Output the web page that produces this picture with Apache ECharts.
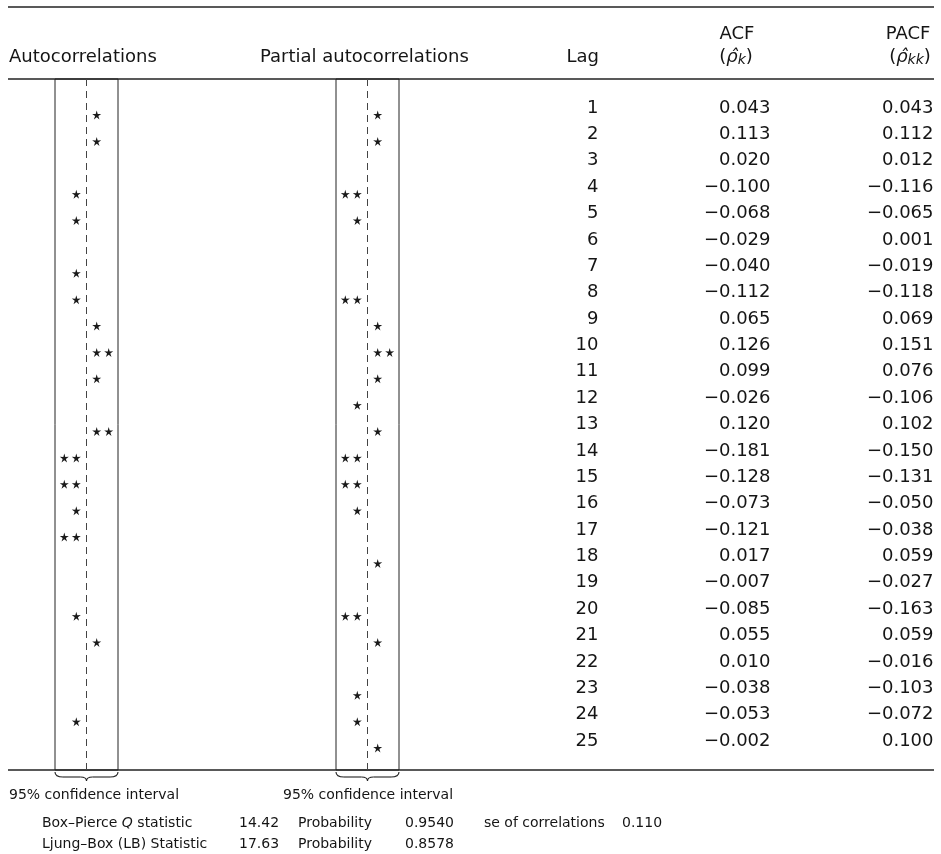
<!DOCTYPE html>
<html><head><meta charset="utf-8">
<script src="https://cdn.jsdelivr.net/npm/echarts/dist/echarts.min.js"></script>
<style>html,body{margin:0;padding:0;background:#fff}#c{width:941px;height:854px}</style>
</head><body><div id="c"></div>
<script>
// ---- data ----
const lags = [1,2,3,4,5,6,7,8,9,10,11,12,13,14,15,16,17,18,19,20,21,22,23,24,25];
const acf = [0.043,0.113,0.020,-0.100,-0.068,-0.029,-0.040,-0.112,0.065,0.126,0.099,-0.026,0.120,-0.181,-0.128,-0.073,-0.121,0.017,-0.007,-0.085,0.055,0.010,-0.038,-0.053,-0.002];
const pacf = [0.043,0.112,0.012,-0.116,-0.065,0.001,-0.019,-0.118,0.069,0.151,0.076,-0.106,0.102,-0.150,-0.131,-0.050,-0.038,0.059,-0.027,-0.163,0.059,-0.016,-0.103,-0.072,0.100];
// signed number of stars per lag (negative = left of centre)
const acfStars = [1,1,0,-1,-1,0,-1,-1,1,2,1,0,2,-2,-2,-1,-2,0,0,-1,1,0,0,-1,0];
const pacfStars = [1,1,0,-2,-1,0,0,-2,1,2,1,-1,1,-2,-2,-1,0,1,0,-2,1,0,-1,-1,1];
const panelTitles = ['Autocorrelations', 'Partial autocorrelations'];
const ciLabel = '95% confidence interval';
const statNames = ['Box–Pierce {q|Q} statistic', 'Ljung–Box (LB) Statistic'];
const statValues = ['14.42', '17.63'];
const probLabel = 'Probability';
const probValues = ['0.9540', '0.8578'];
const seLabel = 'se of correlations';
const seValue = '0.110';

// ---- helpers ----
const FF = '"DejaVu Sans", sans-serif';
const INK = '#151515';
const HALF = 2.625; // half-width of confidence band in star units
function starPoints(counts) {
  const pts = [];
  counts.forEach((n, i) => {
    const s = Math.sign(n);
    for (let k = 1; k <= Math.abs(n); k++) pts.push([s * (k - 0.15), lags[i]]);
  });
  return pts;
}
function fmt(v) {
  return (v < 0 ? '\u2212' : '') + Math.abs(v).toFixed(3);
}
const starPath = 'path://M0 -10 L2.116 -2.912 L9.511 -3.09 L3.424 1.112 L5.878 8.09 L0 3.6 L-5.878 8.09 L-3.424 1.112 L-9.511 -3.09 L-2.116 -2.912 Z';

const chart = echarts.init(document.getElementById('c'), null, {renderer: 'canvas'});
const yMin = -0.365, yMax = 25.834;
const gridTop = 79, gridH = 691;
const yAx = (gi) => ({type: 'value', gridIndex: gi, inverse: true, min: yMin, max: yMax, show: false});

const tableLabel = {
  show: true, position: 'left', distance: 0, offset: [0, -7],
  fontFamily: FF, fontSize: 18, color: INK, opacity: 1
};

chart.setOption({
  animation: false,
  backgroundColor: '#fff',
  grid: [
    {left: 55, width: 63, top: gridTop, height: gridH, show: true, borderColor: '#222', borderWidth: 1, outerBoundsMode: 'none'},
    {left: 336, width: 63, top: gridTop, height: gridH, show: true, borderColor: '#222', borderWidth: 1, outerBoundsMode: 'none'},
    {left: 560, width: 374, top: gridTop, height: gridH, show: false, outerBoundsMode: 'none'}
  ],
  xAxis: [
    {type: 'value', gridIndex: 0, min: -HALF, max: HALF, show: false},
    {type: 'value', gridIndex: 1, min: -HALF, max: HALF, show: false},
    {type: 'value', gridIndex: 2, min: 0, max: 374, show: false}
  ],
  yAxis: [yAx(0), yAx(1), yAx(2)],
  series: [
    {
      type: 'scatter', xAxisIndex: 0, yAxisIndex: 0, symbol: starPath, symbolSize: 9,
      itemStyle: {color: '#1a1a1a', opacity: 1}, data: starPoints(acfStars), silent: true,
      markLine: {silent: true, symbol: ['none', 'none'], label: {show: false},
        lineStyle: {type: [7, 5], color: '#444', width: 1}, data: [{xAxis: 0}]}
    },
    {
      type: 'scatter', xAxisIndex: 1, yAxisIndex: 1, symbol: starPath, symbolSize: 9,
      itemStyle: {color: '#1a1a1a', opacity: 1}, data: starPoints(pacfStars), silent: true,
      markLine: {silent: true, symbol: ['none', 'none'], label: {show: false},
        lineStyle: {type: [7, 5], color: '#444', width: 1}, data: [{xAxis: 0}]}
    },
    {
      type: 'scatter', xAxisIndex: 2, yAxisIndex: 2, symbolSize: 1, clip: false, silent: true,
      itemStyle: {color: '#fff', opacity: 1},
      data: lags.map(l => [39, l]),
      label: Object.assign({}, tableLabel, {formatter: p => String(p.value[1])})
    },
    {
      type: 'scatter', xAxisIndex: 2, yAxisIndex: 2, symbolSize: 1, clip: false, silent: true,
      itemStyle: {color: '#fff', opacity: 1},
      data: acf.map((v, i) => [211, lags[i], v]),
      label: Object.assign({}, tableLabel, {formatter: p => fmt(p.value[2])})
    },
    {
      type: 'scatter', xAxisIndex: 2, yAxisIndex: 2, symbolSize: 1, clip: false, silent: true,
      itemStyle: {color: '#fff', opacity: 1},
      data: pacf.map((v, i) => [374, lags[i], v]),
      label: Object.assign({}, tableLabel, {formatter: p => fmt(p.value[2])})
    }
  ]
});

// ---- annotations ----
const g = [];
const lineStyle = {stroke: '#222', lineWidth: 1.1, fill: null};
function hline(y, w) {
  g.push({type: 'line', shape: {x1: 8, y1: y, x2: 934, y2: y}, style: {stroke: '#222', lineWidth: w}, silent: true});
}
function seg(x1, y1, x2, y2) {
  g.push({type: 'line', shape: {x1: x1, y1: y1, x2: x2, y2: y2}, style: lineStyle, silent: true});
}
function curve(x1, y1, cx, cy, x2, y2) {
  g.push({type: 'bezierCurve', shape: {x1: x1, y1: y1, cpx1: cx, cpy1: cy, x2: x2, y2: y2}, style: lineStyle, silent: true});
}
function txt(x, y, text, size, align, rich) {
  const st = {text: text, font: size + 'px ' + FF, fill: INK, align: align || 'left', verticalAlign: 'middle'};
  if (rich) st.rich = rich;
  g.push({type: 'text', x: x, y: y, style: st, silent: true});
}
hline(7, 1.5);
hline(gridTop, 1.5);
hline(gridTop + gridH, 1.5);

txt(9, 57, panelTitles[0], 18);
txt(260, 57, panelTitles[1], 18);
txt(599, 57, 'Lag', 18, 'right');
txt(737, 34, 'ACF', 18, 'center');
txt(908, 34, 'PACF', 18, 'center');
const hatRich = {
  n: {fontSize: 18, fontFamily: FF, fill: INK},
  i: {fontSize: 18, fontFamily: FF, fontStyle: 'italic', fill: INK},
  s: {fontSize: 14, fontFamily: FF, fontStyle: 'italic', fill: INK, verticalAlign: 'bottom', padding: [6, 0, 0, 0]}
};
txt(736, 57, '{n|(}{i|\u03C1\u0302}{s|k}{n|)}', 18, 'center', hatRich);
txt(910, 57, '{n|(}{i|\u03C1\u0302}{s|kk}{n|)}', 18, 'center', hatRich);

// braces under the confidence bands, from the grid geometry
[0, 1].forEach(gi => {
  const a = chart.convertToPixel({gridIndex: gi}, [-HALF, yMax]);
  const b = chart.convertToPixel({gridIndex: gi}, [HALF, yMax]);
  const m = chart.convertToPixel({gridIndex: gi}, [0, yMax]);
  const x0 = a[0], x1 = b[0], mx = m[0], y0 = a[1] + 2;
  curve(x0, y0, x0, y0 + 5, x0 + 8, y0 + 5);
  seg(x0 + 8, y0 + 5, mx - 6, y0 + 5);
  curve(mx - 6, y0 + 5, mx, y0 + 5, mx, y0 + 9);
  curve(mx, y0 + 9, mx, y0 + 5, mx + 6, y0 + 5);
  seg(mx + 6, y0 + 5, x1 - 8, y0 + 5);
  curve(x1 - 8, y0 + 5, x1, y0 + 5, x1, y0);
});

txt(9, 795, ciLabel, 14);
txt(283, 795, ciLabel, 14);
const qRich = {q: {fontSize: 14, fontFamily: FF, fontStyle: 'italic', fill: INK}};
[0, 1].forEach(r => {
  const y = r === 0 ? 823 : 844;
  txt(42, y, statNames[r], 14, 'left', qRich);
  txt(239, y, statValues[r], 14);
  txt(298, y, probLabel, 14);
  txt(405, y, probValues[r], 14);
});
txt(484, 823, seLabel, 14);
txt(622, 823, seValue, 14);

chart.setOption({graphic: g});
</script>
</body></html>
